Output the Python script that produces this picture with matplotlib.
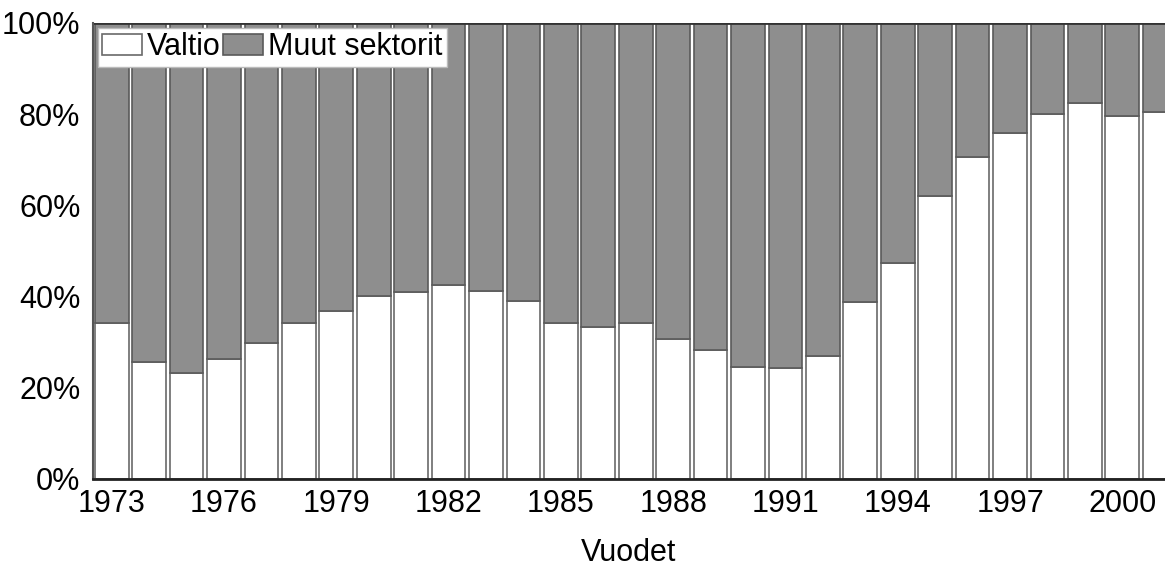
import matplotlib
matplotlib.use("Agg")
import matplotlib.pyplot as plt
from matplotlib.ticker import PercentFormatter

years = list(range(1973, 2002))
valtio = [34.2, 25.7, 23.2, 26.3, 29.8, 34.2, 36.8, 40.1, 41.0, 42.5,
          41.2, 39.0, 34.2, 33.3, 34.2, 30.7, 28.3, 24.6, 24.3, 27.0,
          38.8, 47.4, 62.1, 70.6, 75.9, 80.0, 82.5, 79.6, 80.5]
muut = [100 - v for v in valtio]
tick_years = [1973, 1976, 1979, 1982, 1985, 1988, 1991, 1994, 1997, 2000]
yticks = [0, 20, 40, 60, 80, 100]

plt.rcParams['font.family'] = ['Liberation Sans', 'DejaVu Sans']

fig = plt.figure(figsize=(11.65, 5.72), dpi=100)
ax = fig.add_axes([93/1165, 93/572, 1 - 93/1165, (549-93)/572])

x = list(range(len(years)))
ax.bar(x, valtio, width=0.9, color='white', edgecolor='#6a6a6a', linewidth=1.2,
       label='Valtio')
ax.bar(x, muut, bottom=valtio, width=0.9, color='#8e8e8e', edgecolor='#5a5a5a',
       linewidth=1.2, label='Muut sektorit')

ax.set_xlim(-0.5, 28.14)
ax.set_ylim(0, 100)
ax.set_yticks(yticks)
ax.yaxis.set_major_formatter(PercentFormatter(decimals=0))
ax.set_xticks([years.index(y) for y in tick_years])
ax.set_xticklabels([str(y) for y in tick_years])
ax.tick_params(axis='y', length=0, labelsize=22, pad=9)
ax.tick_params(axis='x', length=0, labelsize=22, pad=7)
ax.set_xlabel('Vuodet', fontsize=22, labelpad=14)

for s in ['top', 'right']:
    ax.spines[s].set_visible(False)
ax.spines['left'].set_color('#555555')
ax.spines['bottom'].set_color('#222222')
ax.spines['bottom'].set_linewidth(2)
ax.spines['left'].set_linewidth(1.5)
ax.axhline(100, color='#333333', linewidth=2)

leg = ax.legend(loc='upper left', ncol=2, fontsize=22, frameon=True,
                fancybox=False, borderaxespad=0.15, handlelength=1.3,
                handleheight=0.65, handletextpad=0.15, columnspacing=0.1,
                borderpad=0.15)
leg.get_frame().set_edgecolor('#bbbbbb')
leg.get_frame().set_facecolor('white')
leg.get_frame().set_alpha(1)

fig.savefig('out.png', dpi=100)
